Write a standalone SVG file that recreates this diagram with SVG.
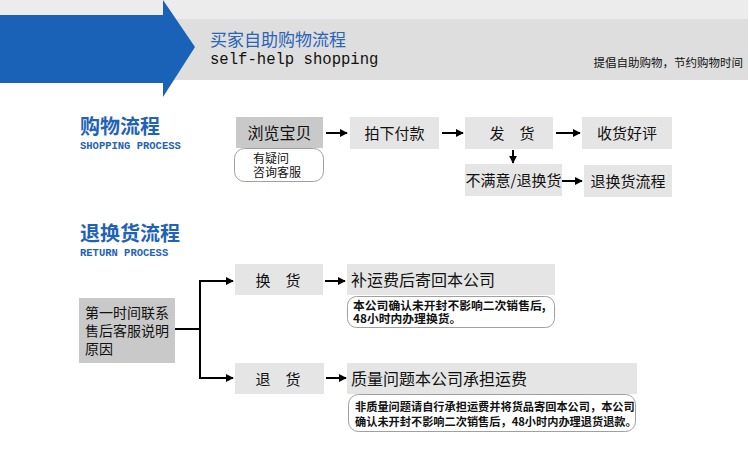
<svg xmlns="http://www.w3.org/2000/svg" width="750" height="470" viewBox="0 0 750 470">
<style>
.cn{font-family:"Noto Sans CJK SC","Noto Sans",sans-serif;fill:#111}
.dk{fill:#c9c9c9}
.lt{fill:#e5e5e5}
.note{fill:#fff;stroke:#a0a0a0;stroke-width:1}
.ln{stroke:#000;stroke-width:2;fill:none}
.mono{font-family:"Liberation Mono","DejaVu Sans Mono",monospace}
.ttl{font-family:"Noto Sans CJK SC",sans-serif;font-size:20px;font-weight:bold;fill:#1f63b6}
.sub{font-family:"Liberation Mono","DejaVu Sans Mono",monospace;font-size:10.5px;font-weight:bold;fill:#1f63b6}
</style>
<defs>
<marker id="ah" viewBox="0 0 10 10" refX="9" refY="5" markerWidth="4" markerHeight="4" orient="auto" markerUnits="strokeWidth">
<path d="M0,0 L10,5 L0,10 z" fill="#000"/>
</marker>
</defs>
<rect width="750" height="470" fill="#fff"/>
<g id="header">
<rect x="0" y="0" width="748" height="19" fill="#ececec"/>
<rect x="172" y="19" width="576" height="61" fill="#dedede"/>
<path d="M0,15 H163 V0 L195,47 L163,97 V83 H0 z" fill="#1a62b7"/>
<text x="210" y="46" font-family="Noto Sans CJK SC,sans-serif" font-size="17" fill="#2b63b5">买家自助购物流程</text>
<text x="210" y="64" class="mono" font-size="15.6" fill="#111">self-help shopping</text>
<text x="743" y="67" class="cn" font-size="11.5" text-anchor="end">提倡自助购物，节约购物时间</text>
</g>
<g id="title1">
<text class="ttl" x="80" y="134">购物流程</text>
<text class="sub" x="80" y="149">SHOPPING PROCESS</text>
</g>
<g id="n-browse">
<rect class="dk" x="236" y="117" width="87" height="31"/>
<text class="cn" x="279.5" y="138.5" font-size="16" text-anchor="middle">浏览宝贝</text>
</g>
<g id="n-ask">
<rect class="note" x="234.5" y="148.5" width="89" height="33" rx="10"/>
<text class="cn" x="253" y="163" font-size="12">有疑问</text>
<text class="cn" x="253" y="177" font-size="12">咨询客服</text>
</g>
<g id="n-pay">
<rect class="lt" x="350" y="117" width="89" height="32"/>
<text class="cn" x="394.5" y="139" font-size="15" text-anchor="middle">拍下付款</text>
</g>
<g id="n-ship">
<rect class="lt" x="465" y="117" width="88" height="32"/>
<text class="cn" x="512" y="139" font-size="15" text-anchor="middle">发　货</text>
</g>
<g id="n-review">
<rect class="lt" x="582" y="117" width="90" height="32"/>
<text class="cn" x="627" y="139" font-size="15" text-anchor="middle">收货好评</text>
</g>
<g id="n-unhappy">
<rect class="lt" x="465" y="164" width="97" height="32"/>
<text class="cn" x="513.5" y="186" font-size="15" text-anchor="middle">不满意/退换货</text>
</g>
<g id="n-returnflow">
<rect class="lt" x="584" y="165" width="88" height="32"/>
<text class="cn" x="628" y="187" font-size="15" text-anchor="middle">退换货流程</text>
</g>
<g id="title2">
<text class="ttl" x="80" y="241">退换货流程</text>
<text class="sub" x="80" y="256">RETURN PROCESS</text>
</g>
<g id="n-contact">
<rect class="dk" x="79" y="298" width="96" height="65"/>
<text class="cn" x="85" y="318" font-size="14">第一时间联系</text>
<text class="cn" x="85" y="336" font-size="14">售后客服说明</text>
<text class="cn" x="85" y="354" font-size="14">原因</text>
</g>
<g id="n-exchange">
<rect class="lt" x="235" y="264" width="88" height="31"/>
<text class="cn" x="278" y="286" font-size="15" text-anchor="middle">换　货</text>
</g>
<g id="n-exchange-info">
<rect class="lt" x="347" y="264" width="208" height="31"/>
<text class="cn" x="351" y="286" font-size="16">补运费后寄回本公司</text>
</g>
<g id="n-exchange-note">
<rect class="note" x="347.5" y="296.5" width="207" height="31" rx="9"/>
<text class="cn" x="353" y="310" font-size="11.8" font-weight="bold">本公司确认未开封不影响二次销售后,</text>
<text class="cn" x="353" y="323" font-size="11.8" font-weight="bold">48小时内办理换货。</text>
</g>
<g id="n-refund">
<rect class="lt" x="235" y="363" width="89" height="31"/>
<text class="cn" x="278" y="385" font-size="15" text-anchor="middle">退　货</text>
</g>
<g id="n-refund-info">
<rect class="lt" x="347" y="363" width="290" height="31"/>
<text class="cn" x="351" y="385" font-size="16">质量问题本公司承担运费</text>
</g>
<g id="n-refund-note">
<rect class="note" x="348.5" y="394.5" width="287" height="37" rx="10"/>
<text class="cn" x="355" y="411" font-size="11.2" font-weight="bold">非质量问题请自行承担运费并将货品寄回本公司，本公司</text>
<text class="cn" x="355" y="426" font-size="11.2" font-weight="bold">确认未开封不影响二次销售后，48小时内办理退货退款。</text>
</g>
<g id="connectors">
<path class="ln" d="M326,133 H347" marker-end="url(#ah)"/>
<path class="ln" d="M442,133 H463" marker-end="url(#ah)"/>
<path class="ln" d="M556,133 H580" marker-end="url(#ah)"/>
<path class="ln" d="M513,150 V163" marker-end="url(#ah)"/>
<path class="ln" d="M562,181 H582" marker-end="url(#ah)"/>
<path class="ln" d="M175,329 H200"/>
<path class="ln" d="M200,280 V379"/>
<path class="ln" d="M199,281 H233" marker-end="url(#ah)"/>
<path class="ln" d="M199,378 H233" marker-end="url(#ah)"/>
<path class="ln" d="M325,281 H345" marker-end="url(#ah)"/>
<path class="ln" d="M326,378 H346" marker-end="url(#ah)"/>
</g>
</svg>
